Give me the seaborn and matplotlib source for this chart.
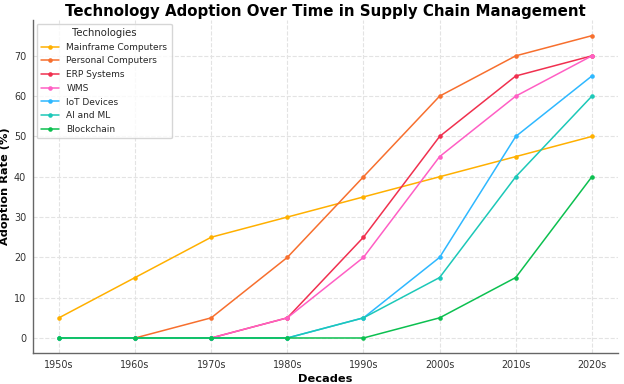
import matplotlib
matplotlib.use('Agg')
import matplotlib.pyplot as plt
import seaborn as sns
import pandas as pd

decades = ['1950s', '1960s', '1970s', '1980s', '1990s', '2000s', '2010s', '2020s']

mainframe = [5, 15, 25, 30, 35, 40, 45, 50]
personal = [None, 0, 5, 20, 40, 60, 70, 75]
erp = [None, None, 0, 5, 25, 50, 65, 70]
wms = [None, None, 0, 5, 20, 45, 60, 70]
iot = [0, 0, 0, 0, 5, 20, 50, 65]
ai_ml = [0, 0, 0, 0, 5, 15, 40, 60]
blockchain = [0, 0, 0, 0, 0, 5, 15, 40]

series = {
    'Mainframe Computers': mainframe,
    'Personal Computers': personal,
    'ERP Systems': erp,
    'WMS': wms,
    'IoT Devices': iot,
    'AI and ML': ai_ml,
    'Blockchain': blockchain,
}
colors = ['#FFB000', '#F76F2E', '#F0304F', '#FF5FC4', '#2EB8FF', '#1CC8B8', '#0CC050']

rows = []
for name, vals in series.items():
    for d, v in zip(decades, vals):
        if v is not None:
            rows.append({'Decade': d, 'Rate': v, 'Technology': name})
df = pd.DataFrame(rows)

sns.set_style('whitegrid', {'grid.linestyle': '--', 'grid.color': '#e3e3e3'})
plt.rcParams['font.family'] = ['DejaVu Sans']

fig, ax = plt.subplots(figsize=(6.24, 3.84), dpi=100)
sns.lineplot(data=df, x='Decade', y='Rate', hue='Technology', palette=colors,
             marker='o', markersize=3.3, markeredgewidth=0, linewidth=1.1, ax=ax, sort=False)

ax.set_title('Technology Adoption Over Time in Supply Chain Management',
             fontsize=10.8, fontweight='bold', pad=3, color='black')
ax.set_xlabel('Decades', fontsize=8.2, fontweight='bold', labelpad=3, color='black')
ax.set_ylabel('Adoption Rate (%)', fontsize=8.2, fontweight='bold', labelpad=3, color='black')
ax.tick_params(labelsize=6.9, pad=2, length=3, width=0.8, color='#666666', labelcolor='#333333')
ax.set_yticks(range(0, 80, 10))
ax.set_ylim(-3.7, 78.9)
ax.set_xlim(-0.34, 7.34)
for s in ['top', 'right']:
    ax.spines[s].set_visible(False)
for s in ['left', 'bottom']:
    ax.spines[s].set_color('#666666')
    ax.spines[s].set_linewidth(1.0)

leg = ax.legend(title='Technologies', loc='upper left', fontsize=6.5, title_fontsize=7.3,
                frameon=True, borderaxespad=0.4, labelspacing=0.52, borderpad=0.5)
leg.get_frame().set_edgecolor('#cccccc')

fig.subplots_adjust(left=0.053, right=0.99, top=0.948, bottom=0.081)
fig.savefig('out.png', dpi=100)
